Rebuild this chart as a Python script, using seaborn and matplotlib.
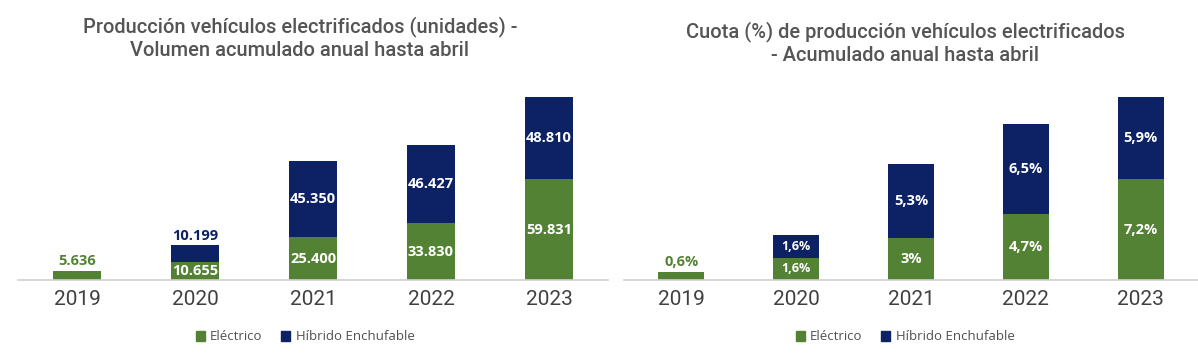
import numpy as np
import pandas as pd
import matplotlib
matplotlib.use("Agg")
import matplotlib.pyplot as plt
import matplotlib.patches as mpatches
import seaborn as sns

# data
years = ["2019", "2020", "2021", "2022", "2023"]
electrico_ud = [5636, 10655, 25400, 33830, 59831]
hibrido_ud = [0, 10199, 45350, 46427, 48810]
electrico_pct = [0.6, 1.6, 3.0, 4.7, 7.2]
hibrido_pct = [0.0, 1.6, 5.3, 6.5, 5.9]
lbl_e_ud = ["5.636", "10.655", "25.400", "33.830", "59.831"]
lbl_h_ud = ["", "10.199", "45.350", "46.427", "48.810"]
lbl_e_pct = ["0,6%", "1,6%", "3%", "4,7%", "7,2%"]
lbl_h_pct = ["", "1,6%", "5,3%", "6,5%", "5,9%"]

GREEN = "#548235"
NAVY = "#0c2265"
GRAY = "#555555"

sns.set_style("white")
plt.rcParams["font.family"] = ["Open Sans", "DejaVu Sans"]

fig = plt.figure(figsize=(11.98, 3.62), dpi=100)
ax1 = fig.add_axes([18 / 1198, 82 / 362, 590 / 1198, 190 / 362])
ax2 = fig.add_axes([624 / 1198, 82 / 362, 574 / 1198, 190 / 362])


def draw(ax, e, h, le, lh, small2020):
    df = pd.DataFrame({"year": years, "e": e, "h": h})
    df["tot"] = df["e"] + df["h"]
    sns.barplot(data=df, x="year", y="e", color=GREEN, width=0.4,
                saturation=1, ax=ax, edgecolor="none")
    sns.barplot(data=df, x="year", y="h", bottom=df["e"], color=NAVY,
                width=0.4, saturation=1, ax=ax, edgecolor="none")
    top = df["tot"].max()
    ax.set_xlim(-0.5, 4.5)
    ax.set_ylim(0, top * 190 / 183)
    ax.set_xlabel("")
    ax.set_ylabel("")
    ax.set_yticks([])
    ax.tick_params(axis="x", length=0, pad=7, labelsize=15, colors="#404040")
    for t in ax.get_xticklabels():
        t.set_family(["Roboto", "DejaVu Sans"])
    for s in ["top", "right", "left"]:
        ax.spines[s].set_visible(False)
    ax.spines["bottom"].set_color("#d0d0d0")
    ax.spines["bottom"].set_linewidth(1.2)
    off = top * 0.012
    for i in range(len(years)):
        fs = 9 if (small2020 and i == 1) else 10.5
        if h[i] == 0:
            ax.text(i, e[i] + off, le[i], ha="center", va="bottom",
                    color=GREEN, fontsize=10.5, fontweight="bold")
            continue
        ax.text(i, e[i] / 2, le[i], ha="center", va="center",
                color="white", fontsize=fs, fontweight="bold")
        if not small2020 and i == 1:
            ax.text(i, e[i] + h[i] + off, lh[i], ha="center", va="bottom",
                    color=NAVY, fontsize=fs, fontweight="bold")
        else:
            ax.text(i, e[i] + h[i] / 2, lh[i], ha="center", va="center",
                    color="white", fontsize=fs, fontweight="bold")


draw(ax1, electrico_ud, hibrido_ud, lbl_e_ud, lbl_h_ud, False)
draw(ax2, electrico_pct, hibrido_pct, lbl_e_pct, lbl_h_pct, True)

fig.text(300 / 1198, 1 - 38 / 362,
         "Producción vehículos electrificados (unidades) -\nVolumen acumulado anual hasta abril",
         ha="center", va="center", fontsize=14.5, color=GRAY, fontweight="medium",
         family=["Roboto", "DejaVu Sans"], linespacing=1.3)
fig.text(905 / 1198, 1 - 43 / 362,
         "Cuota (%) de producción vehículos electrificados\n- Acumulado anual hasta abril",
         ha="center", va="center", fontsize=14.5, color=GRAY, fontweight="medium",
         family=["Roboto", "DejaVu Sans"], linespacing=1.3)

handles = [mpatches.Patch(color=GREEN, label="Eléctrico"),
           mpatches.Patch(color=NAVY, label="Híbrido Enchufable")]
for cx in (305, 905):
    fig.legend(handles=handles, loc="center", bbox_to_anchor=(cx / 1198, 25 / 362),
               ncol=2, frameon=False, fontsize=9.5, handlelength=0.7,
               handleheight=0.7, handletextpad=0.4, columnspacing=1.4,
               labelcolor="#505050")

fig.savefig("out.png", dpi=100, facecolor="white")
